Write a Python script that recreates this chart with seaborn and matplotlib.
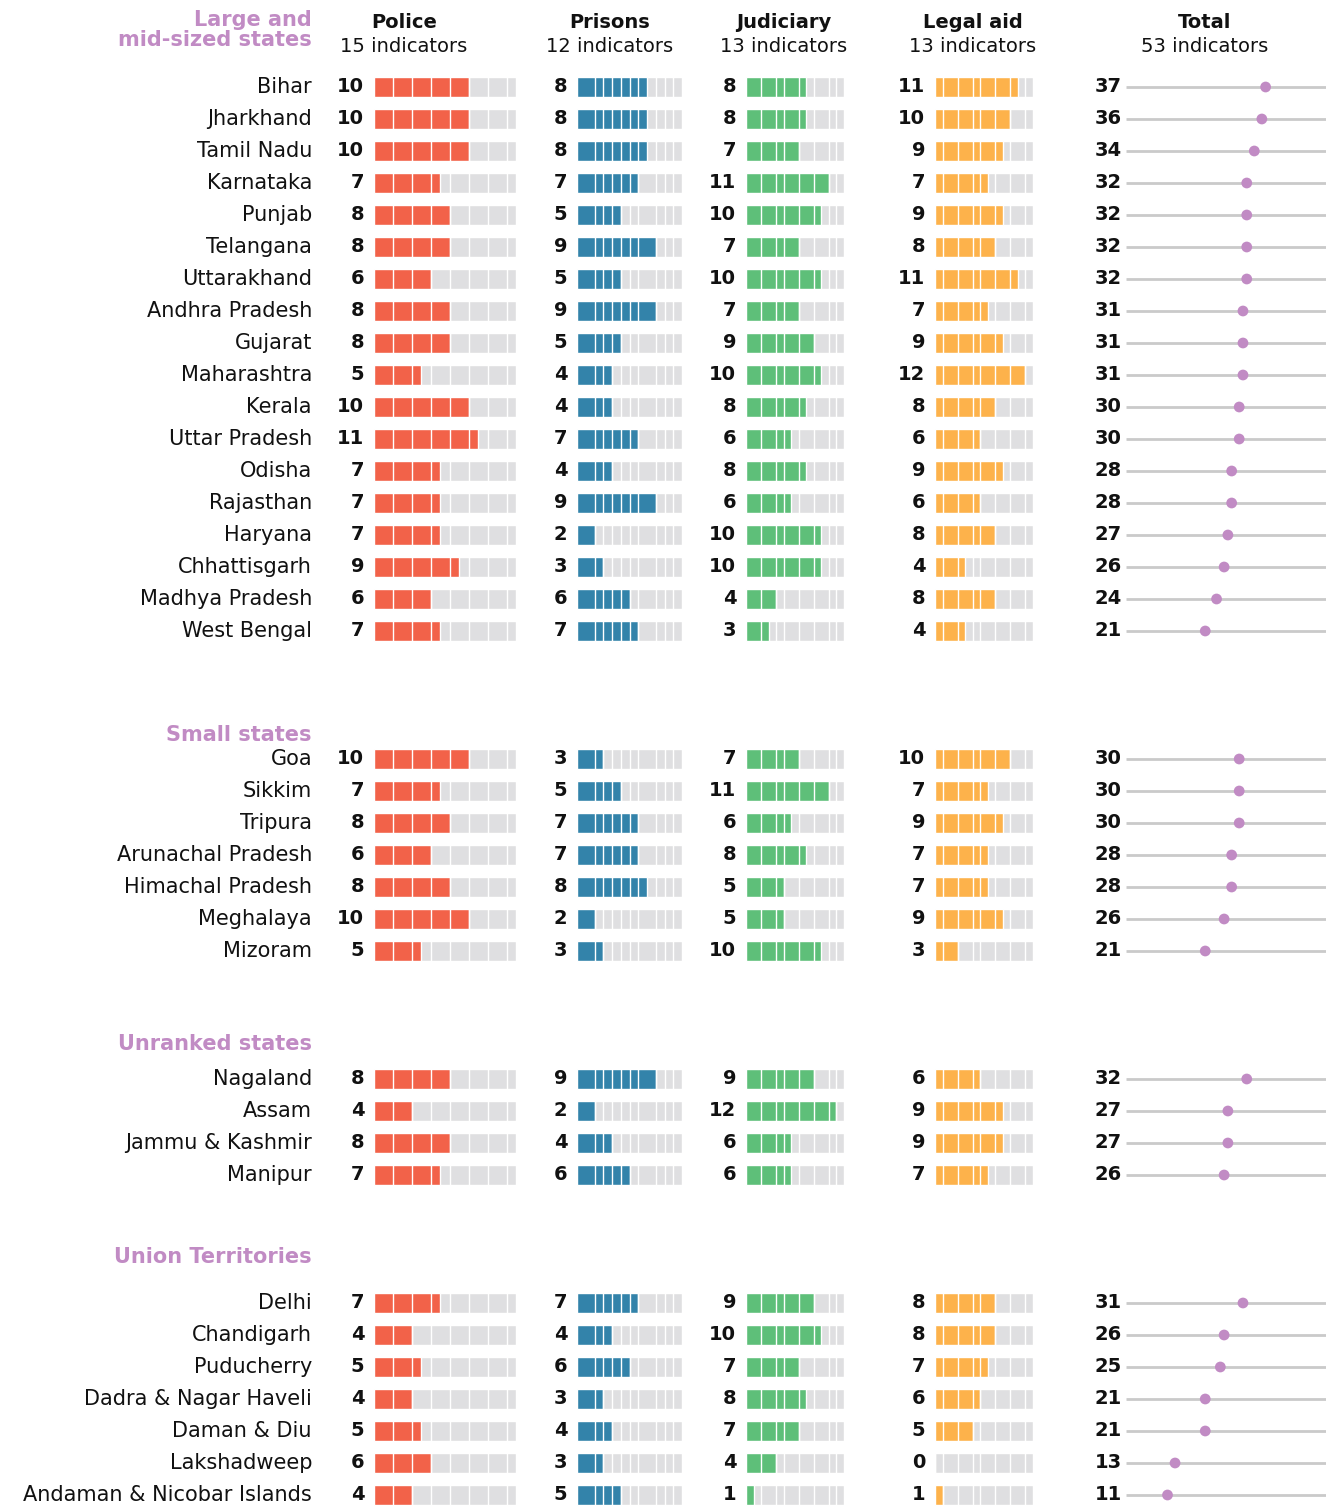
import matplotlib
matplotlib.use("Agg")
import matplotlib.pyplot as plt
import numpy as np
import pandas as pd
import seaborn as sns

# ---- data ---------------------------------------------------------------
group_titles = ["Large and\nmid-sized states", "Small states", "Unranked states", "Union Territories"]
group_sizes = [18, 7, 4, 7]

states = [
    "Bihar", "Jharkhand", "Tamil Nadu", "Karnataka", "Punjab", "Telangana",
    "Uttarakhand", "Andhra Pradesh", "Gujarat", "Maharashtra", "Kerala",
    "Uttar Pradesh", "Odisha", "Rajasthan", "Haryana", "Chhattisgarh",
    "Madhya Pradesh", "West Bengal",
    "Goa", "Sikkim", "Tripura", "Arunachal Pradesh", "Himachal Pradesh",
    "Meghalaya", "Mizoram",
    "Nagaland", "Assam", "Jammu & Kashmir", "Manipur",
    "Delhi", "Chandigarh", "Puducherry", "Dadra & Nagar Haveli",
    "Daman & Diu", "Lakshadweep", "Andaman & Nicobar Islands",
]
police = [10, 10, 10, 7, 8, 8, 6, 8, 8, 5, 10, 11, 7, 7, 7, 9, 6, 7,
          10, 7, 8, 6, 8, 10, 5,
          8, 4, 8, 7,
          7, 4, 5, 4, 5, 6, 4]
prisons = [8, 8, 8, 7, 5, 9, 5, 9, 5, 4, 4, 7, 4, 9, 2, 3, 6, 7,
           3, 5, 7, 7, 8, 2, 3,
           9, 2, 4, 6,
           7, 4, 6, 3, 4, 3, 5]
judiciary = [8, 8, 7, 11, 10, 7, 10, 7, 9, 10, 8, 6, 8, 6, 10, 10, 4, 3,
             7, 11, 6, 8, 5, 5, 10,
             9, 12, 6, 6,
             9, 10, 7, 8, 7, 4, 1]
legal_aid = [11, 10, 9, 7, 9, 8, 11, 7, 9, 12, 8, 6, 9, 6, 8, 4, 8, 4,
             10, 7, 9, 7, 7, 9, 3,
             6, 9, 9, 7,
             8, 8, 7, 6, 5, 0, 1]
total = [37, 36, 34, 32, 32, 32, 32, 31, 31, 31, 30, 30, 28, 28, 27, 26, 24, 21,
         30, 30, 30, 28, 28, 26, 21,
         32, 27, 27, 26,
         31, 26, 25, 21, 21, 13, 11]

pillar_names = ["Police", "Prisons", "Judiciary", "Legal aid"]
pillar_counts = [15, 12, 13, 13]
pillar_colors = ["#f26249", "#3383aa", "#5ebf79", "#fdb24b"]
# white breaks between indicator blocks
pillar_breaks = [
    [2, 4, 6, 8, 10, 12, 14],
    [2, 3, 4, 5, 6, 7, 9, 10, 11],
    [2, 4, 5, 7, 9, 11, 12],
    [1, 3, 5, 6, 8, 10, 12],
]

GRAY = "#dfdfe1"
LINE = "#cacaca"
PURPLE = "#c18bc4"

# ---- layout -------------------------------------------------------------
W, H = 1330, 1506
ROW0, ROWH = 87, 32
group_start = [0, 21, 31, 38]
title_slot = [-1.78, 20.25, 29.9, 36.55]

slots = []
for start, n in zip(group_start, group_sizes):
    slots += [start + i for i in range(n)]

df = pd.DataFrame({
    "state": states, "slot": slots, "Police": police, "Prisons": prisons,
    "Judiciary": judiciary, "Legal aid": legal_aid, "total": total,
})

y_top = -ROW0 / ROWH
y_bot = (H - ROW0) / ROWH

sns.set_style("white")
plt.rcParams["font.family"] = ["DejaVu Sans"]

fig = plt.figure(figsize=(W / 100, H / 100), dpi=100)


def add_panel(x0, x1, xmax):
    ax = fig.add_axes([x0 / W, 0, (x1 - x0) / W, 1])
    ax.set_ylim(y_bot, y_top)
    ax.set_xlim(0, xmax)
    ax.axis("off")
    return ax


bar_px = [(374, 516), (577, 682), (746, 844), (935, 1033)]
for name, n, color, breaks, (x0, x1) in zip(pillar_names, pillar_counts,
                                             pillar_colors, pillar_breaks, bar_px):
    ax = add_panel(x0, x1, n)
    bg = df.assign(full=n)
    sns.barplot(data=bg, x="full", y="slot", orient="y", native_scale=True,
                color=GRAY, saturation=1, width=0.62, errorbar=None, ax=ax)
    sns.barplot(data=df, x=name, y="slot", orient="y", native_scale=True,
                color=color, saturation=1, width=0.62, errorbar=None, ax=ax)
    ax.vlines(breaks, -0.5, max(slots) + 0.5, color="white", lw=1.0, zorder=5)
    ax.set_ylim(y_bot, y_top)
    ax.set_xlim(0, n)
    ax.axis("off")
    for s, v in zip(df["slot"], df[name]):
        ax.annotate(str(v), xy=(0, s), xytext=(-7, 0), textcoords="offset points",
                    ha="right", va="center", fontsize=14, fontweight="bold",
                    color="#111111", annotation_clip=False)

# total panel
axt = add_panel(1126, 1326, 53)
axt.hlines(df["slot"], 0, 53, color=LINE, lw=2, zorder=1)
sns.scatterplot(data=df, x="total", y="slot", color=PURPLE, s=60,
                edgecolor="none", legend=False, zorder=3, clip_on=False, ax=axt)
axt.set_ylim(y_bot, y_top)
axt.set_xlim(0, 53)
axt.axis("off")
for s, v in zip(df["slot"], df["total"]):
    axt.annotate(str(v), xy=(0, s), xytext=(-3, 0), textcoords="offset points",
                 ha="right", va="center", fontsize=14, fontweight="bold",
                 color="#111111", annotation_clip=False)

# ---- text layer ---------------------------------------------------------
lab = fig.add_axes([0, 0, 1, 1])
lab.set_xlim(0, W)
lab.set_ylim(y_bot, y_top)
lab.axis("off")

for s, name in zip(df["slot"], df["state"]):
    lab.text(312, s, name, ha="right", va="center", fontsize=15, color="#111111")

for title, s in zip(group_titles, title_slot):
    lab.text(312, s, title, ha="right", va="center", fontsize=15,
             fontweight="bold", color=PURPLE, linespacing=1.05)

header_x = [404, 610, 784, 973, 1205]
header_names = pillar_names + ["Total"]
header_counts = pillar_counts + [sum(pillar_counts)]
for x, name, n in zip(header_x, header_names, header_counts):
    lab.text(x, -2.0, name, ha="center", va="center", fontsize=14,
             fontweight="bold", color="#111111")
    lab.text(x, -1.25, f"{n} indicators", ha="center", va="center",
             fontsize=14, color="#111111")

fig.savefig("out.png", dpi=100)
plt.close(fig)
